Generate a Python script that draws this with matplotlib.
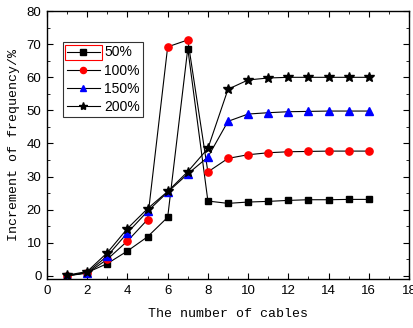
import matplotlib
matplotlib.use("Agg")
import matplotlib.pyplot as plt
from matplotlib.ticker import MultipleLocator
from matplotlib.patches import Rectangle

cables = [1, 2, 3, 4, 5, 6, 7, 8, 9, 10, 11, 12, 13, 14, 15, 16]
s50 = [0.0, 1.0, 3.7, 7.5, 11.8, 17.7, 68.7, 22.6, 21.9, 22.3, 22.5, 22.8, 23.0, 23.0, 23.1, 23.1]
s100 = [0.0, 0.8, 5.0, 10.5, 17.0, 69.2, 71.3, 31.4, 35.5, 36.6, 37.2, 37.5, 37.6, 37.7, 37.7, 37.7]
s150 = [0.0, 1.0, 6.0, 13.0, 19.5, 25.3, 30.8, 35.9, 46.7, 48.9, 49.3, 49.6, 49.7, 49.8, 49.8, 49.8]
s200 = [0.2, 1.3, 7.0, 14.3, 20.3, 25.5, 31.5, 38.5, 56.4, 59.2, 59.8, 60.0, 60.0, 60.0, 60.0, 60.0]
labels = ["50%", "100%", "150%", "200%"]

fig = plt.figure(figsize=(4.14, 3.28), dpi=100)
ax = fig.add_axes([0.1135, 0.149, 0.8745, 0.817])

lw = 0.8
ax.plot(cables, s50, color="black", lw=lw, marker="s", ms=4.5, mfc="black", mec="black", label=labels[0])
ax.plot(cables, s100, color="black", lw=lw, marker="o", ms=5.2, mfc="red", mec="red", label=labels[1])
ax.plot(cables, s150, color="black", lw=lw, marker="^", ms=5.8, mfc="blue", mec="blue", label=labels[2])
ax.plot(cables, s200, color="black", lw=lw, marker="*", ms=7, mfc="black", mec="black", label=labels[3])

ax.set_xlim(0, 18)
ax.set_ylim(-1, 80)
ax.xaxis.set_major_locator(MultipleLocator(2))
ax.xaxis.set_minor_locator(MultipleLocator(1))
ax.yaxis.set_major_locator(MultipleLocator(10))
ax.yaxis.set_minor_locator(MultipleLocator(5))
ax.tick_params(which="both", direction="in", top=True, right=True, labelsize=9.5, pad=4)
ax.tick_params(which="major", length=4)
ax.tick_params(which="minor", length=2)
for t in ax.get_xticklabels() + ax.get_yticklabels():
    t.set_fontfamily("Liberation Sans")
for s in ax.spines.values():
    s.set_linewidth(1.0)

ax.set_xlabel("The number of cables", fontfamily="Liberation Mono", fontsize=9.5, labelpad=8)
ax.set_ylabel("Increment of frequency/%", fontfamily="Liberation Mono", fontsize=9.5, labelpad=5)

leg = ax.legend(loc="upper left", bbox_to_anchor=(0.045, 0.885), frameon=True, fancybox=False,
                edgecolor="black", prop={"family": "Liberation Sans", "size": 10},
                handlelength=2.4, handletextpad=0.3, borderpad=0.25, labelspacing=0.3,
                borderaxespad=0, markerscale=0.85)
leg.get_frame().set_linewidth(0.8)

fig.canvas.draw()
# red selection box around first legend entry handle
bb = leg.get_window_extent()
tb = leg.get_texts()[0].get_window_extent()
yc = 0.5 * (tb.y0 + tb.y1)
inv = fig.transFigure.inverted()
x0, y0 = inv.transform((bb.x0 + 1.5, yc - 7.5))
x1, y1 = inv.transform((tb.x0 - 2, yc + 7.5))
fig.patches.append(Rectangle((x0, y0), x1 - x0, y1 - y0, transform=fig.transFigure,
                             fill=False, edgecolor="red", lw=0.8))

fig.savefig("out.png", dpi=100)
